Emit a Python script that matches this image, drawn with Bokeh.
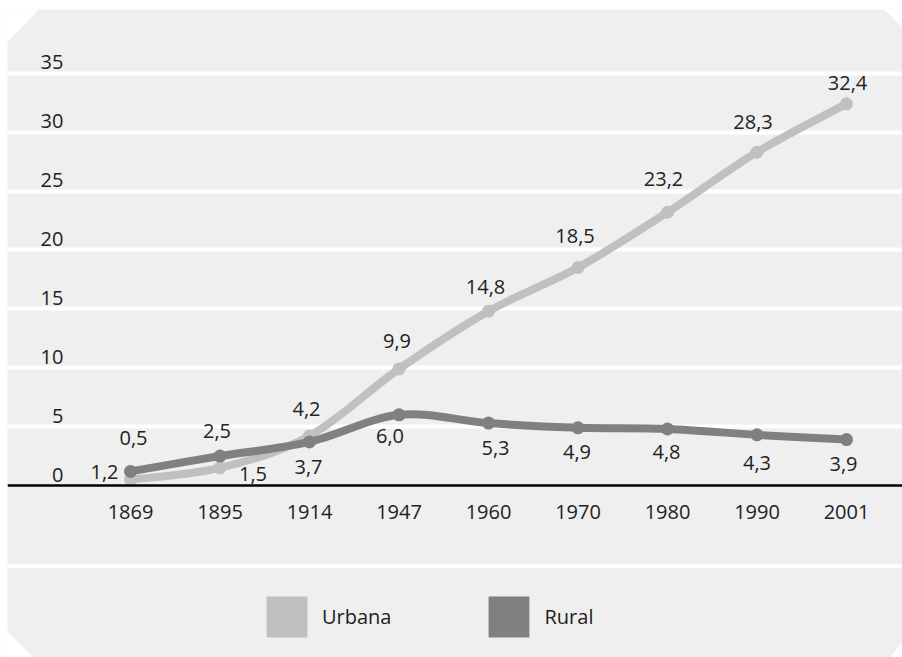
from bokeh.plotting import figure
from bokeh.models import (LinearAxis, FixedTicker, Grid, Span, PolyAnnotation,
                          Legend, LegendItem, ColumnDataSource)
from bokeh.core.properties import value
from bokeh.embed import file_html
from bokeh.resources import INLINE

# ---------------- data ----------------
years = ["1869", "1895", "1914", "1947", "1960", "1970", "1980", "1990", "2001"]
urbana = [0.5, 1.5, 4.2, 9.9, 14.8, 18.5, 23.2, 28.3, 32.4]
rural = [1.2, 2.5, 3.7, 6.0, 5.3, 4.9, 4.8, 4.3, 3.9]
y_ticks = [0, 5, 10, 15, 20, 25, 30, 35]
series_names = ["Urbana", "Rural"]

# ---------------- styling / label placement (screen px) ----------------
URB_COLOR = "#c0c0c0"
RUR_COLOR = "#808080"
BG = "#efefef"
TXT = "#222222"
FONT = "Open Sans"
urb_dx = [3, 33, -3, -2, -3, -3, -4, -4, 1]
urb_dy = [-42, 6, -27, -28, -24, -32, -33, -30, -21]
rur_dx = [-26, -3, -1, -9, 7, -1, -1, 0, -3]
rur_dy = [1, -25, 25, 21, 25, 24, 23, 28, 24]

W, H = 902, 657
xs = list(range(len(years)))

p = figure(width=W, height=H,
           x_range=(-1.3743, 8.6257), y_range=(-14.60, 40.41),
           x_axis_type=None, y_axis_type=None,
           toolbar_location=None, output_backend="svg",
           min_border_left=7, min_border_top=9, min_border_right=0, min_border_bottom=0,
           background_fill_color=BG, border_fill_color="white",
           outline_line_color=None)

# horizontal white grid lines
grid = Grid(dimension=1, ticker=FixedTicker(ticks=y_ticks[1:]),
            grid_line_color="white", grid_line_width=4)
p.add_layout(grid)
p.add_layout(Span(location=-6.85, dimension="width", line_color="white", line_width=4))

# x axis at zero
xaxis = LinearAxis(ticker=FixedTicker(ticks=xs),
                   major_label_overrides={i: y for i, y in enumerate(years)},
                   fixed_location=0,
                   axis_line_color="black", axis_line_width=2.5,
                   major_tick_line_color=None, minor_tick_line_color=None,
                   major_label_text_font=FONT, major_label_text_font_size="20px",
                   major_label_text_color=TXT, major_label_standoff=13)
p.add_layout(xaxis, "below")

# y tick labels, sitting just above each grid line
p.text(x=[-0.75] * len(y_ticks), y=y_ticks, text=[str(t) for t in y_ticks],
       text_align="right", text_baseline="middle", y_offset=-11,
       text_font=value(FONT), text_font_size="20px", text_color=TXT)


def smooth(xv, yv):
    n = len(xv)
    d = dict(x0=[], y0=[], x1=[], y1=[], cx0=[], cy0=[], cx1=[], cy1=[])
    for i in range(n - 1):
        a = max(i - 1, 0)
        b = min(i + 2, n - 1)
        d["x0"].append(xv[i]); d["y0"].append(yv[i])
        d["x1"].append(xv[i + 1]); d["y1"].append(yv[i + 1])
        d["cx0"].append(xv[i] + (xv[i + 1] - xv[a]) / 6)
        d["cy0"].append(yv[i] + (yv[i + 1] - yv[a]) / 6)
        d["cx1"].append(xv[i + 1] - (xv[b] - xv[i]) / 6)
        d["cy1"].append(yv[i + 1] - (yv[b] - yv[i]) / 6)
    return ColumnDataSource(d)


def fmt(v):
    return f"{v:.1f}".replace(".", ",")


for vals, color in [(urbana, URB_COLOR), (rural, RUR_COLOR)]:
    p.bezier(x0="x0", y0="y0", x1="x1", y1="y1", cx0="cx0", cy0="cy0",
             cx1="cx1", cy1="cy1", source=smooth(xs, vals),
             line_color=color, line_width=8, line_cap="round")
    p.scatter(xs, vals, size=13, fill_color=color, line_color=None)

for vals, dx, dy in [(urbana, urb_dx, urb_dy), (rural, rur_dx, rur_dy)]:
    p.text(x=xs, y=vals, text=[fmt(v) for v in vals], x_offset=dx, y_offset=dy,
           text_align="center", text_baseline="middle",
           text_font=value(FONT), text_font_size="20px", text_color=TXT)

# legend swatches (renderers that draw nothing in the plot area)
nan = float("nan")
r_u = p.quad(left=[nan], right=[nan], top=[nan], bottom=[nan],
             fill_color=URB_COLOR, line_color=None)
r_r = p.quad(left=[nan], right=[nan], top=[nan], bottom=[nan],
             fill_color=RUR_COLOR, line_color=None)
legend = Legend(items=[LegendItem(label=series_names[0], renderers=[r_u]),
                       LegendItem(label=series_names[1], renderers=[r_r])],
                orientation="horizontal", location=(254, 15),
                glyph_width=51, glyph_height=51, label_standoff=10, spacing=92,
                padding=0, margin=0, background_fill_alpha=0, border_line_color=None,
                label_text_font=FONT, label_text_font_size="20px", label_text_color=TXT)
p.add_layout(legend)

# clipped corners (screen units measured from the frame's bottom-left)
for cx, cy in [([-1, -1, 32], [649, 614, 649]),
               ([876, 896, 896], [649, 649, 629]),
               ([-1, -1, 27], [27, -1, -1]),
               ([896, 896, 882], [17, -1, -1])]:
    p.add_layout(PolyAnnotation(xs=cx, ys=cy, xs_units="screen", ys_units="screen",
                                fill_color="white", fill_alpha=1, line_color=None,
                                level="overlay"))

open("out.html", "w").write(file_html(p, INLINE))
